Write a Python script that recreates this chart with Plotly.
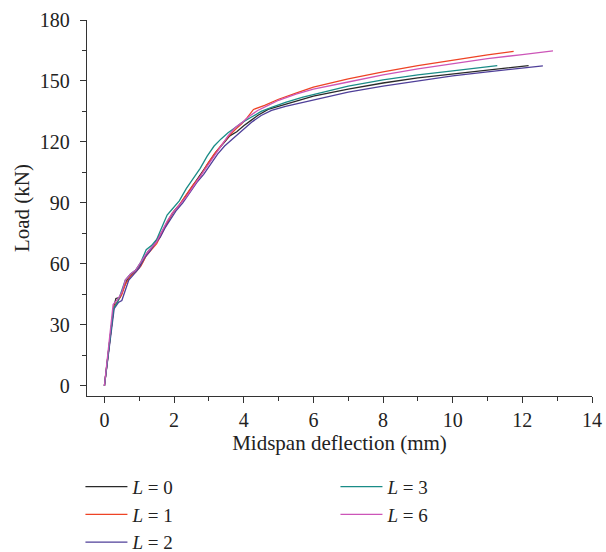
import plotly.graph_objects as go

# ---- data ----
x_L0 = [0, 0.27, 0.33, 0.45, 0.55, 0.65, 0.8, 0.95, 1.1, 1.25, 1.4, 1.55, 1.7, 1.85, 2.0, 2.2, 2.4, 2.6, 2.8, 3.0, 3.2, 3.4, 3.6, 3.8, 4.0, 4.2, 4.4, 4.7, 5.0, 5.5, 6.0, 7.0, 8.0, 9.0, 10.0, 11.0, 12.18]
y_L0 = [0, 39, 43, 43.5, 48, 52, 55, 58, 61, 66, 69, 73, 77, 82, 86, 90, 95, 100, 105, 110, 115, 119, 123, 125, 128, 130.5, 133, 136, 137.5, 140, 142.5, 146, 149, 151.5, 153.5, 155.5, 157.6]

x_L1 = [0, 0.27, 0.4, 0.5, 0.6, 0.75, 0.9, 1.05, 1.2, 1.35, 1.5, 1.65, 1.8, 1.95, 2.15, 2.35, 2.55, 2.75, 2.95, 3.15, 3.35, 3.55, 3.75, 3.95, 4.1, 4.28, 4.6, 5.0, 5.5, 6.0, 7.0, 8.0, 9.0, 10.0, 11.0, 11.75]
y_L1 = [0, 39, 42, 45, 50, 54, 56, 59, 64, 67, 70, 75, 80, 85, 89, 94, 99, 103, 109, 114, 118.5, 122.5, 126, 129, 132, 136, 138, 141, 144, 147, 151, 154.5, 157.5, 160.3, 162.8, 164.6]

x_L2 = [0, 0.28, 0.4, 0.5, 0.6, 0.7, 0.85, 1.0, 1.15, 1.3, 1.45, 1.6, 1.75, 1.9, 2.05, 2.25, 2.45, 2.65, 2.85, 3.05, 3.25, 3.45, 3.65, 3.85, 4.05, 4.25, 4.5, 4.8, 5.2, 5.7, 6.2, 7.0, 8.0, 9.0, 10.0, 11.0, 12.0, 12.59]
y_L2 = [0, 38, 41, 42, 47, 52, 55, 58, 63, 66, 70, 73, 78, 82, 86, 90, 95, 100, 104, 109, 114, 118, 121, 124, 127, 130, 133, 135.5, 137.5, 139.5, 141.5, 144.5, 147.5, 150, 152.5, 154.5, 156.3, 157.4]

x_L3 = [0, 0.26, 0.4, 0.5, 0.6, 0.75, 0.9, 1.05, 1.2, 1.35, 1.5, 1.65, 1.8, 1.95, 2.15, 2.35, 2.55, 2.75, 2.95, 3.15, 3.35, 3.55, 3.75, 3.95, 4.2, 4.5, 4.8, 5.2, 5.7, 6.2, 7.0, 8.0, 9.0, 10.0, 11.28]
y_L3 = [0, 38, 42, 47, 52, 55, 57, 61, 67, 69, 72, 78, 84, 87, 91, 97, 102, 107, 113, 118, 121.5, 124.5, 127, 129.5, 132, 135, 137, 139.5, 142, 144, 147.5, 150.5, 153, 155, 157.6]

x_L6 = [0, 0.25, 0.4, 0.5, 0.6, 0.75, 0.9, 1.05, 1.2, 1.35, 1.5, 1.65, 1.8, 1.95, 2.15, 2.35, 2.55, 2.75, 2.95, 3.15, 3.35, 3.55, 3.75, 3.95, 4.15, 4.4, 4.7, 5.0, 5.5, 6.0, 7.0, 8.0, 9.0, 10.0, 11.0, 12.0, 12.88]
y_L6 = [0, 40, 43, 46, 52, 55, 57, 61, 65, 68, 71, 76, 81, 85, 89, 93, 98, 103, 108, 113, 118, 123, 127, 129.5, 132.5, 135.5, 138, 140.5, 143.5, 146, 149.5, 153, 156, 158.5, 161, 163, 164.8]

FONT = "Liberation Serif"
TICK_FS = 20
TITLE_FS = 21
LEG_FS = 19
AX = "#333333"
TXT = "#222222"

series = [
    ("<i>L</i> = 0", x_L0, y_L0, "#2a2a2a", "legend"),
    ("<i>L</i> = 1", x_L1, y_L1, "#EE4325", "legend"),
    ("<i>L</i> = 2", x_L2, y_L2, "#4F3F99", "legend"),
    ("<i>L</i> = 3", x_L3, y_L3, "#1A8C87", "legend2"),
    ("<i>L</i> = 6", x_L6, y_L6, "#CC55B8", "legend2"),
]

fig = go.Figure()
for name, xs, ys, col, lg in series:
    fig.add_trace(go.Scatter(x=xs, y=ys, mode="lines", name=name,
                             line=dict(color=col, width=1.3), legend=lg))

legend_common = dict(orientation="v", bgcolor="rgba(0,0,0,0)",
                     font=dict(family=FONT, size=LEG_FS, color=TXT),
                     xanchor="left", yanchor="top", tracegroupgap=0, itemwidth=42)

fig.update_layout(
    width=606, height=552,
    margin=dict(l=87, r=14, t=20, b=156, autoexpand=False),
    paper_bgcolor="white", plot_bgcolor="white",
    font=dict(family=FONT, size=TICK_FS, color=TXT),
    legend=dict(x=-0.013, y=-0.191, xref="paper", yref="paper", **legend_common),
    legend2=dict(x=0.492, y=-0.191, xref="paper", yref="paper", **legend_common),
    xaxis=dict(range=[-0.5, 14], tickvals=[0, 2, 4, 6, 8, 10, 12, 14], automargin=False,
               showgrid=False, zeroline=False, showline=True, linecolor=AX, linewidth=1.3,
               ticks="outside", ticklen=6, tickwidth=1.2, tickcolor=AX,
               minor=dict(ticks="outside", ticklen=4, tickwidth=1.2, tickcolor=AX, dtick=1, tick0=0, showgrid=False),
               tickfont=dict(family=FONT, size=TICK_FS, color=TXT),
               ticklabelstandoff=0,
               title=dict(text="Midspan deflection (mm)", font=dict(family=FONT, size=TITLE_FS, color=TXT), standoff=0)),
    yaxis=dict(range=[-5, 180], tickvals=[0, 30, 60, 90, 120, 150, 180], automargin=False,
               showgrid=False, zeroline=False, showline=True, linecolor=AX, linewidth=1.3,
               ticks="outside", ticklen=6, tickwidth=1.2, tickcolor=AX,
               minor=dict(ticks="outside", ticklen=4, tickwidth=1.2, tickcolor=AX, dtick=15, tick0=0, showgrid=False),
               tickfont=dict(family=FONT, size=TICK_FS, color=TXT),
               ticklabelstandoff=6,
               title=dict(text="Load (kN)", font=dict(family=FONT, size=TITLE_FS, color=TXT), standoff=4)),
)

fig.write_html("out.html", config={"displayModeBar": False},
               post_script="document.body.style.margin='0';document.body.style.overflow='hidden';")
